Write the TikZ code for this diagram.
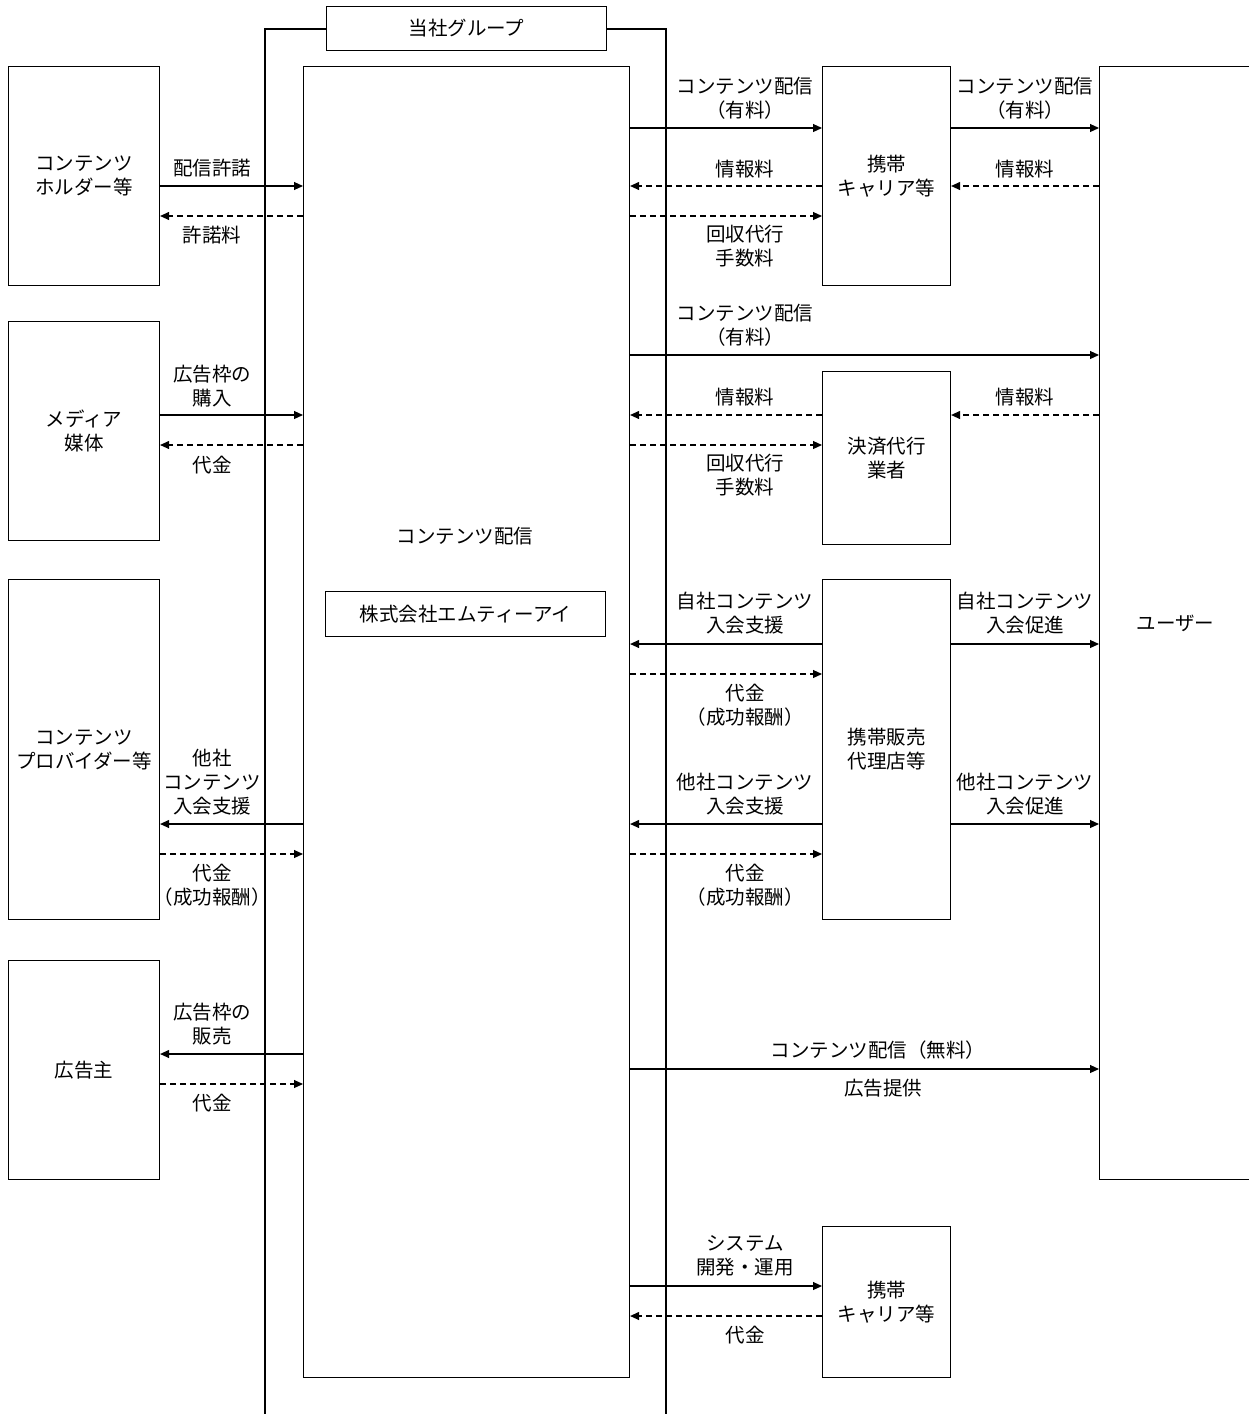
\documentclass[tikz,border=0pt]{standalone}
\usepackage{fontspec}
\setmainfont{Noto Sans CJK JP}
\usetikzlibrary{arrows.meta}
\begin{document}
\begin{tikzpicture}[x=1pt,y=-1pt,
  every node/.style={font=\fontsize{19.5}{24}\selectfont},
  box/.style={draw,line width=1.1pt,anchor=north west,inner sep=0pt,align=center},
  lbl/.style={align=center,inner sep=0pt},
  sarrow/.style={line width=1.1pt,-{Triangle[length=9pt,width=8pt]}},
  darrow/.style={line width=1.1pt,dash pattern=on 6pt off 4pt,-{Triangle[length=9pt,width=8pt]}}
]
\useasboundingbox (0,0) rectangle (1249,1414);
% group frame
\draw[line width=1.1pt] (265,29) rectangle (666,1414.6);
\node[box,fill=white,minimum width=280pt,minimum height=44pt] (grp) at (326,6) {当社グループ};
% main box
\node[box,fill=white,minimum width=326pt,minimum height=1311pt] (main) at (303,66) {};
\node[lbl] (maintxt) at (465,536) {コンテンツ配信};
\node[box,minimum width=280pt,minimum height=45pt] (mti) at (325,591) {株式会社エムティーアイ};
% left boxes
\node[box,minimum width=151pt,minimum height=219pt] (L1) at (8,66) {コンテンツ\\ホルダー等};
\node[box,minimum width=151pt,minimum height=219pt] (L2) at (8,321) {メディア\\媒体};
\node[box,minimum width=151pt,minimum height=340pt] (L3) at (8,579) {コンテンツ\\プロバイダー等};
\node[box,minimum width=151pt,minimum height=219pt] (L4) at (8,960) {広告主};
% middle boxes
\node[box,minimum width=128pt,minimum height=219pt] (C1) at (822,66) {携帯\\キャリア等};
\node[box,minimum width=128pt,minimum height=173pt] (S) at (822,371) {決済代行\\業者};
\node[box,minimum width=128pt,minimum height=340pt] (Shop) at (822,579) {携帯販売\\代理店等};
\node[box,minimum width=128pt,minimum height=151pt] (C2) at (822,1226) {携帯\\キャリア等};
% user
\node[box,minimum width=152pt,minimum height=1113pt] (user) at (1099,66) {ユーザー};

% left arrows
\draw[sarrow] (L1.east |- 0,186) -- (main.west |- 0,186);
\draw[darrow] (main.west |- 0,216) -- (L1.east |- 0,216);
\draw[sarrow] (L2.east |- 0,415) -- (main.west |- 0,415);
\draw[darrow] (main.west |- 0,445) -- (L2.east |- 0,445);
\draw[sarrow] (main.west |- 0,824) -- (L3.east |- 0,824);
\draw[darrow] (L3.east |- 0,854) -- (main.west |- 0,854);
\draw[sarrow] (main.west |- 0,1054) -- (L4.east |- 0,1054);
\draw[darrow] (L4.east |- 0,1084) -- (main.west |- 0,1084);

% middle arrows
\draw[sarrow] (main.east |- 0,128) -- (C1.west |- 0,128);
\draw[darrow] (C1.west |- 0,186) -- (main.east |- 0,186);
\draw[darrow] (main.east |- 0,216) -- (C1.west |- 0,216);
\draw[sarrow] (main.east |- 0,355) -- (user.west |- 0,355);
\draw[darrow] (S.west |- 0,415) -- (main.east |- 0,415);
\draw[darrow] (main.east |- 0,445) -- (S.west |- 0,445);
\draw[sarrow] (Shop.west |- 0,644) -- (main.east |- 0,644);
\draw[darrow] (main.east |- 0,674) -- (Shop.west |- 0,674);
\draw[sarrow] (Shop.west |- 0,824) -- (main.east |- 0,824);
\draw[darrow] (main.east |- 0,854) -- (Shop.west |- 0,854);
\draw[sarrow] (main.east |- 0,1069) -- (user.west |- 0,1069);
\draw[sarrow] (main.east |- 0,1286) -- (C2.west |- 0,1286);
\draw[darrow] (C2.west |- 0,1316) -- (main.east |- 0,1316);

% right arrows
\draw[sarrow] (C1.east |- 0,128) -- (user.west |- 0,128);
\draw[darrow] (user.west |- 0,186) -- (C1.east |- 0,186);
\draw[darrow] (user.west |- 0,415) -- (S.east |- 0,415);
\draw[sarrow] (Shop.east |- 0,644) -- (user.west |- 0,644);
\draw[sarrow] (Shop.east |- 0,824) -- (user.west |- 0,824);

% left labels
\node[lbl] (a1) at (212,168) {配信許諾};
\node[lbl] (a2) at (212,235) {許諾料};
\node[lbl] (a3) at (212,386) {広告枠の\\購入};
\node[lbl] (a4) at (212,465) {代金};
\node[lbl] (a5) at (212,782) {他社\\コンテンツ\\入会支援};
\node[lbl] (a6) at (212,885) {代金\\（成功報酬）};
\node[lbl] (a7) at (212,1024.5) {広告枠の\\販売};
\node[lbl] (a8) at (212,1103) {代金};
% middle labels
\node[lbl] (b1) at (745,98.5) {コンテンツ配信\\（有料）};
\node[lbl] (b2) at (745,169) {情報料};
\node[lbl] (b3) at (745,246) {回収代行\\手数料};
\node[lbl] (b4) at (745,325) {コンテンツ配信\\（有料）};
\node[lbl] (b5) at (745,397) {情報料};
\node[lbl] (b6) at (745,475.5) {回収代行\\手数料};
\node[lbl] (b7) at (745,613) {自社コンテンツ\\入会支援};
\node[lbl] (b8) at (745,705) {代金\\（成功報酬）};
\node[lbl] (b9) at (745,794) {他社コンテンツ\\入会支援};
\node[lbl] (b10) at (745,885) {代金\\（成功報酬）};
\node[lbl] (b11) at (878,1050) {コンテンツ配信（無料）};
\node[lbl] (b12) at (883,1088) {広告提供};
\node[lbl] (b13) at (745,1256) {システム\\開発・運用};
\node[lbl] (b14) at (745,1335) {代金};
% right labels
\node[lbl] (c1) at (1025,98.5) {コンテンツ配信\\（有料）};
\node[lbl] (c2) at (1025,169) {情報料};
\node[lbl] (c3) at (1025,397) {情報料};
\node[lbl] (c4) at (1025,613) {自社コンテンツ\\入会促進};
\node[lbl] (c5) at (1025,794) {他社コンテンツ\\入会促進};
\end{tikzpicture}
\end{document}
